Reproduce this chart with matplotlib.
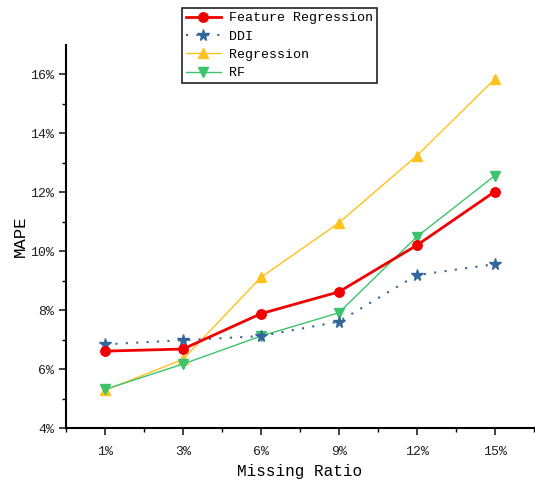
import matplotlib
matplotlib.use("Agg")
import matplotlib.pyplot as plt
from matplotlib.ticker import FixedLocator, FuncFormatter

categories = ["1%", "3%", "6%", "9%", "12%", "15%"]
feature_regression = [6.61, 6.68, 7.88, 8.62, 10.20, 12.02]
ddi = [6.84, 6.98, 7.12, 7.61, 9.19, 9.56]
regression = [5.28, 6.33, 9.11, 10.96, 13.24, 15.84]
rf = [5.31, 6.17, 7.12, 7.91, 10.49, 12.56]
series_names = ["Feature Regression", "DDI", "Regression", "RF"]

plt.rcParams['font.family'] = ['Liberation Mono', 'DejaVu Sans']

fig = plt.figure(figsize=(5.35, 4.84), dpi=100)
ax = fig.add_axes([0.1234, 0.1157, 0.874, 0.7913])

x = list(range(len(categories)))
l1, = ax.plot(x, feature_regression, color="#f00000", lw=2, marker="o", ms=6.8, zorder=5)
l2, = ax.plot(x, ddi, color="#336699", lw=1.5, ls=(0, (1, 4)), marker="*", ms=8.5, zorder=4)
l3, = ax.plot(x, regression, color="#ffc21a", lw=1, marker="^", ms=7, zorder=3)
l4, = ax.plot(x, rf, color="#3cc46c", lw=1, marker="v", ms=7, zorder=3)

ax.set_xlim(-0.5, 5.5)
ax.set_ylim(4, 17)
ax.set_xticks(x)
ax.set_xticklabels(categories)
ax.xaxis.set_minor_locator(FixedLocator([i + 0.5 for i in range(-1, 6)]))
ax.set_yticks([4, 6, 8, 10, 12, 14, 16])
ax.yaxis.set_major_formatter(FuncFormatter(lambda v, p: f"{int(v)}%"))
ax.yaxis.set_minor_locator(FixedLocator([5, 7, 9, 11, 13, 15]))

for s in ["top", "right"]:
    ax.spines[s].set_visible(False)
for s in ["left", "bottom"]:
    ax.spines[s].set_linewidth(1.5)

ax.tick_params(axis="both", which="major", direction="out", length=5, width=1.2,
               labelsize=9.5, colors="#222222")
ax.tick_params(axis="both", which="minor", direction="out", length=3, width=1.0)
ax.tick_params(axis="x", which="major", pad=8)

ax.set_xlabel("Missing Ratio", fontsize=11.5, labelpad=4)
ax.set_ylabel("MAPE", fontsize=12.5, labelpad=2)

leg = fig.legend([l1, l2, l3, l4], series_names, loc="upper left",
                 bbox_to_anchor=(182 / 535, 1 - 8 / 484), frameon=True,
                 fontsize=9.6, handlelength=2.6, handletextpad=0.6,
                 borderpad=0.3, labelspacing=0.45, borderaxespad=0)
leg.get_frame().set_edgecolor("#222222")
leg.get_frame().set_linewidth(1.2)
leg.get_frame().set_boxstyle("square", pad=0)
leg.get_frame().set_alpha(1)

fig.savefig("out.png", dpi=100)
